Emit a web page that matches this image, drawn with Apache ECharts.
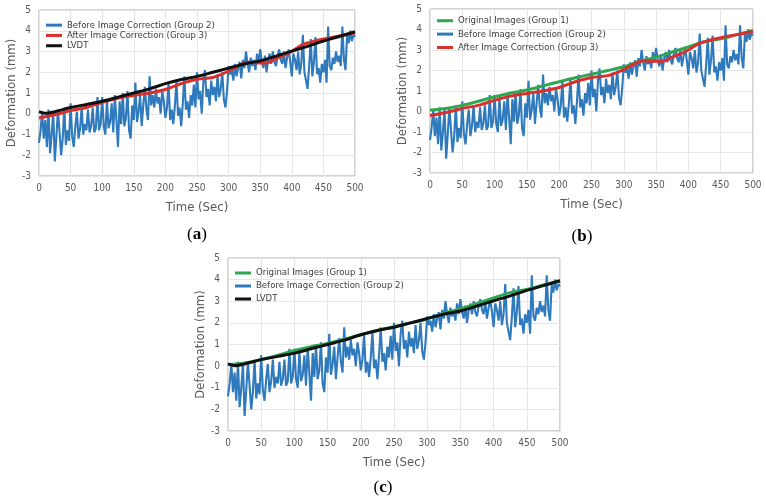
<!DOCTYPE html>
<html>
<head>
<meta charset="utf-8">
<script src="https://cdn.jsdelivr.net/npm/echarts@6/dist/echarts.min.js"></script>
<style>
html, body { margin: 0; padding: 0; background: #fff; }
#chart { width: 766px; height: 501px; }
</style>
</head>
<body>
<div id="chart"></div>
<script>
// Group 2 (before correction) is sampled every 2.5 s from 0 to 500 s
const BEFORE_STEP = 2.5;
const beforeValues = [
    -1.4, -0.8, 0.1, -1.2, -0.3, -1.6, 0.2, -1.9, -1.0, 0.1,
    -2.3, -1.1, 0.2, -0.9, -2.0, -1.2, 0.3, -1.5, -0.8, -1.3,
    0.5, -1.1, -1.6, -0.6, 0.1, -1.2, -0.7, 0.3, -1.0, -0.5,
    -0.8, 0.2, -0.9, -0.6, 0.3, -0.9, -0.7, 0.8, -0.8, -0.5,
    0.8, -0.6, -1.0, 0.7, -0.7, -0.4, 0.5, -0.9, 0.9, -0.3,
    -1.6, 0.6, -0.5, 1.0, -0.6, -0.2, 1.1, -0.8, -1.2, 0.4,
    -0.3, 1.5, -0.4, 0.1, 0.9, -0.6, 0.4, 1.3, 0.2, -0.3,
    1.8, 0.4, 0.9, 0.3, 1.2, 0.5, 0.8, 0.0, 1.1, 0.6,
    -0.2, 0.3, 1.5, -0.3, 0.2, -0.5, 0.4, 1.6, -0.1, 0.3,
    -0.6, 0.5, 1.8, 0.2, 0.6, -0.2, 0.9, 0.4, 1.4, 0.3,
    2.0, 0.7, 1.1, 0.0, 1.5, 2.1, 0.8, 1.2, 0.4, 1.6,
    0.9, 1.3, 0.6, 1.9, 0.8, 1.2, 2.0, 0.7, 0.3, 1.1,
    2.3, 1.9, 2.1, 1.6, 2.4, 1.8, 2.2, 2.5, 1.7, 2.6,
    2.2, 3.0, 2.4, 2.0, 2.7, 2.3, 2.6, 2.1, 2.9, 2.4,
    3.1, 2.5, 2.2, 2.8, 2.0, 2.6, 2.9, 2.4, 3.0, 2.5,
    2.3, 2.8, 3.1, 2.6, 2.4, 3.0, 2.2, 2.7, 3.1, 2.5,
    1.8, 2.9, 2.6, 2.1, 3.0, 1.9, 2.4, 3.8, 2.0, 1.6,
    1.2, 2.3, 3.6, 1.8, 2.5, 3.7, 1.9, 2.2, 1.5, 2.4,
    2.0, 2.6, 1.5, 4.2, 2.3, 2.1, 2.7, 2.4, 3.0, 2.5,
    2.8, 2.3, 4.2, 2.6, 2.1, 3.8, 3.4, 4.0, 3.5, 3.8,
    3.7
];

const originalTimes = [0, 25, 50, 75, 100, 125, 150, 175, 200, 225, 250, 275, 300, 325, 350, 375, 400, 425, 450, 475, 500];
const originalValues = [0.07, 0.15, 0.3, 0.5, 0.72, 0.9, 1.05, 1.25, 1.45, 1.65, 1.82, 2.0, 2.18, 2.45, 2.65, 2.9, 3.15, 3.4, 3.55, 3.75, 3.95];

const afterTimes = [0, 25, 50, 75, 100, 125, 150, 175, 200, 225, 250, 275, 300, 315, 330, 345, 360, 375, 400, 415, 430, 450, 475, 500];
const afterValues = [-0.2, -0.05, 0.15, 0.3, 0.55, 0.75, 0.88, 1.0, 1.17, 1.45, 1.66, 1.75, 2.05, 2.3, 2.48, 2.45, 2.45, 2.65, 3.0, 3.3, 3.45, 3.6, 3.75, 3.9];

const lvdtTimes = [0, 10, 25, 50, 75, 100, 125, 150, 175, 200, 225, 250, 275, 300, 325, 350, 375, 400, 425, 450, 475, 500];
const lvdtValues = [0.1, 0.02, 0.1, 0.3, 0.45, 0.6, 0.8, 1.0, 1.2, 1.45, 1.65, 1.8, 2.0, 2.2, 2.4, 2.55, 2.78, 3.02, 3.25, 3.5, 3.72, 3.95];

const NAME_ORIGINAL = 'Original Images (Group 1)';
const NAME_BEFORE = 'Before Image Correction (Group 2)';
const NAME_AFTER = 'After Image Correction (Group 3)';
const NAME_LVDT = 'LVDT';

const COLORS = {};
COLORS[NAME_ORIGINAL] = '#2ea652';
COLORS[NAME_BEFORE] = '#2f79bd';
COLORS[NAME_AFTER] = '#d8302d';
COLORS[NAME_LVDT] = '#111111';

const beforeData = beforeValues.map((v, i) => [i * BEFORE_STEP, v]);
const zip = (ts, vs) => ts.map((t, i) => [t, vs[i]]);
const seriesData = {};
seriesData[NAME_ORIGINAL] = zip(originalTimes, originalValues);
seriesData[NAME_BEFORE] = beforeData;
seriesData[NAME_AFTER] = zip(afterTimes, afterValues);
seriesData[NAME_LVDT] = zip(lvdtTimes, lvdtValues);

const FONT = "'Liberation Sans Narrow', 'DejaVu Sans Condensed', 'Liberation Sans', sans-serif";
const GRAY = '#595959';

// panels: a, b, c
const panels = [
    {grid: {left: 39, top: 10, width: 316, height: 166}, draw: [NAME_BEFORE, NAME_AFTER, NAME_LVDT],
        legend: [NAME_BEFORE, NAME_AFTER, NAME_LVDT], legendPos: {left: 46, top: 20, lh: 10.3}},
    {grid: {left: 430, top: 9, width: 323, height: 164}, draw: [NAME_BEFORE, NAME_ORIGINAL, NAME_AFTER],
        legend: [NAME_ORIGINAL, NAME_BEFORE, NAME_AFTER], legendPos: {left: 437, top: 14, lh: 13.4}},
    {grid: {left: 228, top: 258, width: 332, height: 173}, draw: [NAME_BEFORE, NAME_ORIGINAL, NAME_LVDT],
        legend: [NAME_ORIGINAL, NAME_BEFORE, NAME_LVDT], legendPos: {left: 235, top: 266.5, lh: 13}}
];

const grids = [], xAxes = [], yAxes = [], series = [], legends = [];
panels.forEach(function (p, idx) {
    grids.push(Object.assign({show: true, borderColor: '#a6a6a6', borderWidth: 1, backgroundColor: '#fff'}, p.grid));
    xAxes.push({
        gridIndex: idx, type: 'value', min: 0, max: 500, interval: 50,
        axisLine: {show: false}, axisTick: {show: false},
        axisLabel: {fontSize: 10, color: GRAY, margin: 7, fontFamily: FONT},
        splitLine: {lineStyle: {color: '#e6e6e6'}},
        name: 'Time (Sec)', nameLocation: 'middle', nameGap: 25,
        nameTextStyle: {fontSize: 13, color: GRAY, fontFamily: FONT}
    });
    yAxes.push({
        gridIndex: idx, type: 'value', min: -3, max: 5, interval: 1,
        axisLine: {show: false}, axisTick: {show: false},
        axisLabel: {fontSize: 10, color: GRAY, margin: 8, fontFamily: FONT},
        splitLine: {lineStyle: {color: '#e6e6e6'}},
        name: 'Deformation (mm)', nameLocation: 'middle', nameGap: 20,
        nameTextStyle: {fontSize: 13, color: GRAY, fontFamily: FONT}
    });
    p.draw.forEach(function (name) {
        series.push({
            name: name, type: 'line', xAxisIndex: idx, yAxisIndex: idx,
            data: seriesData[name], showSymbol: false,
            smooth: name === NAME_BEFORE ? false : 0.3,
            lineStyle: {color: COLORS[name], width: name === NAME_BEFORE ? 2.1 : 3},
            itemStyle: {color: COLORS[name]}
        });
    });
    legends.push({
        orient: 'vertical', left: p.legendPos.left, top: p.legendPos.top, padding: 0,
        itemWidth: 16, itemHeight: 3, itemGap: 0, icon: 'rect',
        selectedMode: false,
        data: p.legend,
        textStyle: {fontSize: 9.5, color: '#404040', fontFamily: FONT, lineHeight: p.legendPos.lh}
    });
});

const captionStyle = {
    fontFamily: "'Liberation Serif', serif", fontSize: 17, fill: '#000', textAlign: 'center', textVerticalAlign: 'middle'
};
function caption(letter, x, y) {
    return {
        type: 'text', x: x, y: y,
        style: Object.assign({}, captionStyle, {
            text: '(' + '{b|' + letter + '})',
            rich: {b: {fontFamily: "'Liberation Serif', serif", fontSize: 17, fontWeight: 'bold'}}
        })
    };
}

let chart = echarts.init(document.getElementById('chart'));
chart.setOption({
    animation: false,
    backgroundColor: '#fff',
    grid: grids,
    xAxis: xAxes,
    yAxis: yAxes,
    legend: legends,
    series: series,
    graphic: [
        caption('a', 197, 235),
        caption('b', 582, 237),
        caption('c', 383, 488)
    ]
});
</script>
</body>
</html>
